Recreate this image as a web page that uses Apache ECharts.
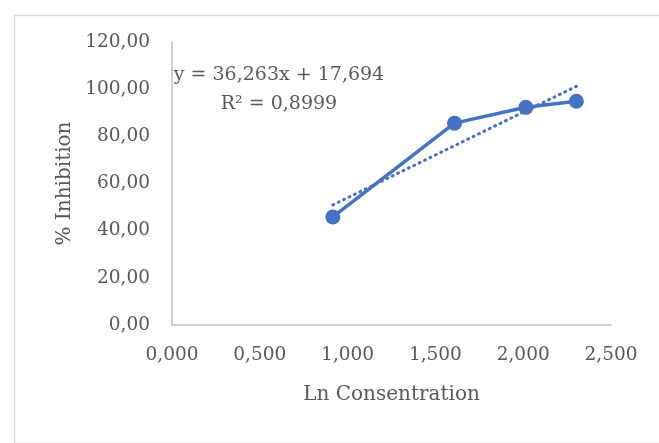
<!DOCTYPE html>
<html>
<head>
<meta charset="utf-8">
<script src="https://cdn.jsdelivr.net/npm/echarts@6/dist/echarts.min.js"></script>
<style>
html,body{margin:0;padding:0;background:#fff;}
#chart{width:659px;height:443px;}
</style>
</head>
<body>
<div id="chart"></div>
<script>
const lnConc = [0.916, 1.609, 2.015, 2.303];
const inhibition = [45.8, 85.6, 92.3, 94.9];
const slope = 36.263;
const intercept = 17.694;
const equationText = 'y = 36,263x + 17,694';
const r2Text = 'R² = 0,8999';
const xAxisName = 'Ln Consentration';
const yAxisName = '% Inhibition';

const FONT = 'DejaVu Serif';
const TXT = '#595959';
const BLUE = '#4472C4';

const points = lnConc.map((x, i) => [x, inhibition[i]]);
const xMin = Math.min(...lnConc), xMax = Math.max(...lnConc);
const trend = [[xMin, slope * xMin + intercept], [xMax, slope * xMax + intercept]];

const chart = echarts.init(document.getElementById('chart'));
chart.setOption({
  animation: false,
  backgroundColor: '#fff',
  grid: { left: 172, top: 42, right: 48, bottom: 118 },
  xAxis: {
    type: 'value', min: 0, max: 2.5, interval: 0.5,
    name: xAxisName, nameLocation: 'middle', nameGap: 60,
    nameTextStyle: { fontFamily: FONT, fontSize: 20, color: TXT },
    axisLine: { show: true, lineStyle: { color: '#bfbfbf', width: 1.5 } },
    axisTick: { show: false },
    splitLine: { show: false },
    axisLabel: { fontFamily: FONT, fontSize: 18.5, color: TXT, margin: 21,
      formatter: v => v.toFixed(3).replace('.', ',') }
  },
  yAxis: {
    type: 'value', min: 0, max: 120, interval: 20,
    name: yAxisName, nameLocation: 'middle', nameGap: 97, nameRotate: 90,
    nameTextStyle: { fontFamily: FONT, fontSize: 20, color: TXT },
    axisLine: { show: true, lineStyle: { color: '#bfbfbf', width: 1.5 } },
    axisTick: { show: false },
    splitLine: { show: false },
    axisLabel: { fontFamily: FONT, fontSize: 18.5, color: TXT, margin: 22,
      formatter: v => v.toFixed(2).replace('.', ',') }
  },
  series: [
    {
      type: 'line', data: trend, symbol: 'none', silent: true,
      lineStyle: { color: BLUE, width: 3, type: [1, 5], cap: 'round' },
      z: 2
    },
    {
      type: 'line', data: points, symbol: 'circle', symbolSize: 15,
      itemStyle: { color: BLUE },
      lineStyle: { color: BLUE, width: 3.5 },
      z: 3
    }
  ],
  graphic: [
    { type: 'rect', left: 12, top: 13, shape: { width: 660, height: 428 },
      style: { fill: 'none', stroke: '#d9d9d9', lineWidth: 1.5 }, z: -1 },
    { type: 'text', x: 279, y: 75, style: { text: equationText, fontFamily: FONT, fontSize: 19,
      fill: TXT, align: 'center', verticalAlign: 'middle' }, z: 10 },
    { type: 'text', x: 279, y: 104, style: { text: r2Text, fontFamily: FONT, fontSize: 19,
      fill: TXT, align: 'center', verticalAlign: 'middle' }, z: 10 }
  ]
});
</script>
</body>
</html>
